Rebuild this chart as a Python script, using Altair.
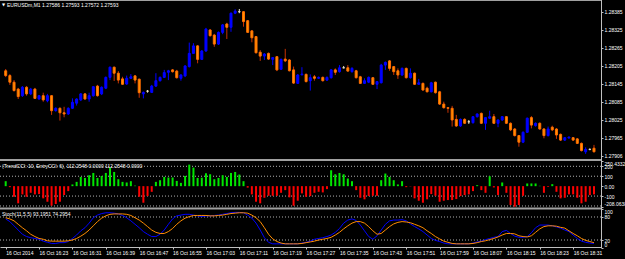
import json
import altair as alt
import pandas as pd

# ---------------- data ----------------
time_labels = ["16 Oct 2014", "16 Oct 16:23", "16 Oct 16:31", "16 Oct 16:39", "16 Oct 16:47",
               "16 Oct 16:55", "16 Oct 17:03", "16 Oct 17:11", "16 Oct 17:19", "16 Oct 17:27",
               "16 Oct 17:35", "16 Oct 17:43", "16 Oct 17:51", "16 Oct 17:59", "16 Oct 18:07",
               "16 Oct 18:15", "16 Oct 18:23", "16 Oct 18:31"]
bars_per_label = 8

price_ticks = [1.28385, 1.28325, 1.28265, 1.28205, 1.28145, 1.28085, 1.28025, 1.27965, 1.27906]

open_ = [1.28189, 1.28173, 1.28151, 1.28128, 1.28106, 1.28134, 1.28112, 1.28128, 1.28095, 1.28106,
         1.28089, 1.28106, 1.28056, 1.28064, 1.28049, 1.28045, 1.28064, 1.28081, 1.28092, 1.28112,
         1.28095, 1.28106, 1.28138, 1.28112, 1.28131, 1.28167, 1.28201, 1.28181, 1.28162, 1.28145,
         1.28164, 1.28172, 1.28161, 1.28112, 1.28121, 1.28117, 1.28138, 1.28156, 1.28167, 1.28184,
         1.28192, 1.28188, 1.28164, 1.28172, 1.28203, 1.28247, 1.28272, 1.28227, 1.28255, 1.28325,
         1.28308, 1.28278, 1.28317, 1.28345, 1.28334, 1.28381, 1.28386, 1.28386, 1.28356, 1.28322,
         1.28303, 1.28251, 1.28238, 1.28247, 1.28227, 1.28236, 1.28194, 1.28228, 1.28225, 1.28192,
         1.28147, 1.28176, 1.28177, 1.28156, 1.28169, 1.28164, 1.28167, 1.28158, 1.28166, 1.28192,
         1.28186, 1.28199, 1.28199, 1.28186, 1.28189, 1.28169, 1.28147, 1.28151, 1.28166, 1.28144,
         1.28149, 1.28208, 1.28222, 1.28203, 1.28189, 1.28175, 1.28197, 1.28166, 1.28181, 1.28144,
         1.28147, 1.28131, 1.28119, 1.28151, 1.28119, 1.28078, 1.28066, 1.28064, 1.28027, 1.28005,
         1.28027, 1.28019, 1.28016, 1.28036, 1.28047, 1.28014, 1.28031, 1.28036, 1.28014, 1.28025,
         1.28036, 1.28014, 1.27995, 1.27973, 1.27951, 1.27984, 1.28033, 1.28006, 1.28014, 1.27995,
         1.27973, 1.28001, 1.27995, 1.27977, 1.27958, 1.27965, 1.27966, 1.27962, 1.27947, 1.27919,
         1.27927, 1.27931]
high = [1.28195, 1.28178, 1.28158, 1.28132, 1.28138, 1.28138, 1.28132, 1.28132, 1.28108, 1.28116,
        1.28112, 1.28108, 1.28067, 1.28067, 1.28069, 1.28067, 1.28097, 1.28097, 1.28115, 1.28115,
        1.28116, 1.28138, 1.28142, 1.28137, 1.28170, 1.28203, 1.28203, 1.28188, 1.28169, 1.28173,
        1.28178, 1.28175, 1.28163, 1.28120, 1.28125, 1.28142, 1.28181, 1.28170, 1.28192, 1.28192,
        1.28195, 1.28192, 1.28178, 1.28208, 1.28283, 1.28281, 1.28275, 1.28258, 1.28332, 1.28328,
        1.28312, 1.28320, 1.28345, 1.28349, 1.28383, 1.28394, 1.28395, 1.28388, 1.28358, 1.28325,
        1.28305, 1.28258, 1.28248, 1.28250, 1.28235, 1.28238, 1.28230, 1.28262, 1.28228, 1.28203,
        1.28178, 1.28201, 1.28180, 1.28177, 1.28175, 1.28170, 1.28170, 1.28170, 1.28195, 1.28197,
        1.28208, 1.28205, 1.28208, 1.28201, 1.28192, 1.28172, 1.28164, 1.28170, 1.28168, 1.28155,
        1.28212, 1.28220, 1.28225, 1.28205, 1.28197, 1.28200, 1.28200, 1.28197, 1.28183, 1.28162,
        1.28150, 1.28136, 1.28152, 1.28153, 1.28122, 1.28086, 1.28068, 1.28072, 1.28042, 1.28030,
        1.28031, 1.28025, 1.28038, 1.28047, 1.28050, 1.28035, 1.28056, 1.28045, 1.28027, 1.28038,
        1.28038, 1.28017, 1.27998, 1.27975, 1.27987, 1.28033, 1.28038, 1.28017, 1.28017, 1.27998,
        1.28003, 1.28006, 1.27998, 1.27980, 1.27968, 1.27970, 1.27968, 1.27965, 1.27950, 1.27934,
        1.27930, 1.27942]
low = [1.28168, 1.28142, 1.28120, 1.28095, 1.28102, 1.28106, 1.28108, 1.28095, 1.28092, 1.28086,
       1.28084, 1.28042, 1.28053, 1.28023, 1.28034, 1.28042, 1.28062, 1.28073, 1.28088, 1.28092,
       1.28086, 1.28103, 1.28103, 1.28108, 1.28128, 1.28158, 1.28155, 1.28147, 1.28142, 1.28142,
       1.28162, 1.28147, 1.28099, 1.28097, 1.28116, 1.28115, 1.28135, 1.28153, 1.28165, 1.28158,
       1.28183, 1.28163, 1.28156, 1.28168, 1.28200, 1.28245, 1.28214, 1.28225, 1.28252, 1.28303,
       1.28269, 1.28275, 1.28311, 1.28295, 1.28319, 1.28378, 1.28381, 1.28336, 1.28315, 1.28284,
       1.28247, 1.28222, 1.28225, 1.28225, 1.28208, 1.28188, 1.28192, 1.28218, 1.28187, 1.28145,
       1.28145, 1.28173, 1.28150, 1.28123, 1.28156, 1.28162, 1.28153, 1.28155, 1.28163, 1.28175,
       1.28183, 1.28197, 1.28186, 1.28183, 1.28163, 1.28145, 1.28145, 1.28148, 1.28142, 1.28128,
       1.28147, 1.28192, 1.28189, 1.28175, 1.28162, 1.28172, 1.28163, 1.28163, 1.28142, 1.28142,
       1.28122, 1.28117, 1.28117, 1.28113, 1.28075, 1.28063, 1.28049, 1.28003, 1.28002, 1.28002,
       1.28012, 1.28012, 1.28013, 1.28033, 1.28012, 1.27992, 1.28028, 1.28012, 1.28001, 1.28022,
       1.28012, 1.27988, 1.27970, 1.27936, 1.27948, 1.27982, 1.27997, 1.28003, 1.27992, 1.27964,
       1.27970, 1.27988, 1.27962, 1.27955, 1.27955, 1.27963, 1.27955, 1.27945, 1.27920, 1.27912,
       1.27924, 1.27917]
close = [1.28173, 1.28151, 1.28123, 1.28103, 1.28134, 1.28112, 1.28128, 1.28097, 1.28106, 1.28092,
         1.28106, 1.28056, 1.28064, 1.28049, 1.28045, 1.28064, 1.28084, 1.28095, 1.28112, 1.28095,
         1.28106, 1.28136, 1.28106, 1.28134, 1.28167, 1.28201, 1.28181, 1.28158, 1.28144, 1.28164,
         1.28169, 1.28158, 1.28116, 1.28117, 1.28121, 1.28138, 1.28156, 1.28167, 1.28183, 1.28189,
         1.28186, 1.28166, 1.28175, 1.28205, 1.28247, 1.28272, 1.28227, 1.28255, 1.28328, 1.28306,
         1.28278, 1.28317, 1.28342, 1.28334, 1.28381, 1.28388, 1.28386, 1.28353, 1.28317, 1.28299,
         1.28249, 1.28238, 1.28245, 1.28228, 1.28233, 1.28192, 1.28227, 1.28222, 1.28189, 1.28148,
         1.28175, 1.28178, 1.28153, 1.28166, 1.28164, 1.28167, 1.28156, 1.28167, 1.28192, 1.28184,
         1.28199, 1.28199, 1.28188, 1.28197, 1.28166, 1.28147, 1.28156, 1.28167, 1.28144, 1.28153,
         1.28208, 1.28217, 1.28197, 1.28186, 1.28175, 1.28197, 1.28166, 1.28181, 1.28144, 1.28149,
         1.28125, 1.28119, 1.28149, 1.28116, 1.28078, 1.28066, 1.28064, 1.28025, 1.28005, 1.28027,
         1.28014, 1.28019, 1.28036, 1.28045, 1.28014, 1.28033, 1.28036, 1.28014, 1.28025, 1.28036,
         1.28014, 1.27992, 1.27973, 1.27951, 1.27984, 1.28031, 1.28008, 1.28014, 1.27995, 1.27973,
         1.27995, 1.27992, 1.27975, 1.27958, 1.27966, 1.27968, 1.27958, 1.27947, 1.27923, 1.27927,
         1.27927, 1.27919]

cci = [50, -10, -107, -173, -83, -107, -67, -83, -80, -123,
       -157, -197, -180, -157, -90, -50, 17, 43, 93, 83,
       110, 133, 83, 103, 133, 187, 143, 70, 43, 37,
       50, 5, -107, -167, -100, -57, 43, 60, 93, 87,
       87, 53, 33, 103, 217, 187, 83, 85, 130, 120,
       70, 83, 110, 93, 133, 143, 117, 50, -15, -83,
       -157, -173, -117, -97, -97, -97, -67, -40, -113, -197,
       -147, -73, -107, -100, -67, -57, -63, -30, 160, 120,
       133, 120, 77, 50, -40, -117, -133, -100, -97, -97,
       60, 127, 93, 60, 17, 50, -10, -3, -123, -147,
       -167, -133, -80, -97, -157, -147, -140, -140, -130, -100,
       -90, -83, -50, 10, -40, -67, 100, -13, -90, 37,
       -67, -190, -207, -190, -97, 27, 27, 27, 3, -67,
       -7, 20, -57, -123, -117, -83, -83, -117, -173, -157,
       -90, -83]
cci_levels = [200, 100, -100, -200]
cci_tick_values = [250.4332, 200, 100, 0, -100, -208.0638]
cci_tick_labels = ["250.4332", "200", "100", "0.00", "-100", "-208.0638"]

stoch_main = [75, 68, 57, 46, 35, 29, 26, 24, 22, 17,
              14, 11, 11, 13, 13, 16, 24, 33, 44, 52,
              64, 78, 85, 89, 91, 91, 90, 88, 84, 78,
              70, 61, 52, 42, 35, 29, 29, 35, 46, 61,
              75, 83, 85, 87, 87, 85, 83, 81, 83, 83,
              84, 85, 87, 89, 91, 92, 92, 91, 85, 77,
              64, 46, 26, 14, 10, 10, 10, 10, 10, 10,
              10, 12, 14, 17, 22, 24, 26, 29, 33, 40,
              50, 64, 72, 75, 71, 59, 44, 29, 22, 31,
              46, 61, 70, 72, 72, 73, 70, 62, 55, 49,
              42, 33, 24, 19, 16, 12, 10, 10, 10, 10,
              10, 10, 12, 15, 17, 21, 24, 27, 29, 42,
              45, 37, 30, 27, 27, 29, 39, 52, 59, 59,
              59, 57, 54, 51, 46, 42, 33, 24, 17, 14,
              12, 11]
stoch_signal = [78, 75, 70, 61, 52, 44, 35, 29, 24, 22,
                18, 17, 17, 17, 17, 18, 20, 24, 30, 37,
                46, 57, 68, 77, 83, 87, 88, 88, 88, 87,
                84, 78, 72, 64, 55, 46, 40, 37, 37, 42,
                50, 61, 70, 77, 81, 84, 84, 84, 84, 83,
                83, 84, 85, 87, 89, 90, 91, 91, 90, 85,
                78, 68, 52, 35, 23, 16, 12, 10, 10, 10,
                10, 11, 13, 15, 17, 20, 22, 24, 27, 33,
                40, 49, 57, 64, 68, 68, 64, 55, 44, 35,
                37, 46, 55, 62, 66, 68, 67, 65, 61, 57,
                52, 44, 37, 29, 23, 17, 14, 11, 10, 10,
                10, 10, 11, 13, 16, 18, 21, 24, 28, 33,
                37, 37, 36, 31, 29, 28, 31, 40, 49, 55,
                57, 57, 56, 53, 51, 44, 37, 31, 24, 19,
                16, 13]
stoch_levels = [80, 20]
stoch_ticks = [100, 80, 20, 0]

main_title = "EURUSDm,M1  1.27586 1.27593 1.27572 1.27593"
cci_title = "(TrendCCI: 10, EntryCCI: 6), 112.2548 0.0000 112.2548 0.0000"
stoch_title = "Stoch(11,5,5) 93.1951 74.2954"

# ---------------- styling ----------------
BLUE = "#0000ff"
ORANGE = "#ff9900"
ORANGE_EDGE = "#ff6a00"
BEAR_WICK = "#c83200"
DOJI = "#e6dcc3"
GREEN = "#00e600"
RED = "#ff0000"
SIG = "#ff8c00"
FRAME = "#a0a0a0"
FONT = "Liberation Sans"
FS = 5

n = len(open_)
df = pd.DataFrame({"i": list(range(n)), "open": open_, "high": high, "low": low,
                   "close": close, "cci": cci, "k": stoch_main, "d": stoch_signal})
df["body_lo"] = df[["open", "close"]].min(axis=1)
df["body_hi"] = df[["open", "close"]].max(axis=1)
df["wick_col"] = [BLUE if c > o else (BEAR_WICK if c < o else DOJI) for o, c in zip(open_, close)]
df["body_fill"] = [BLUE if c > o else (ORANGE if c < o else DOJI) for o, c in zip(open_, close)]
df["body_edge"] = [BLUE if c > o else (ORANGE_EDGE if c < o else DOJI) for o, c in zip(open_, close)]
df["cci_col"] = [GREEN if v >= 0 else RED for v in cci]
df["zero"] = 0.0

tick_idx = [bars_per_label * k for k in range(len(time_labels))]
x_label_expr = json.dumps(time_labels) + "[round(datum.value / %d)]" % bars_per_label

common_axis = dict(labelColor="#ffffff", labelFont=FONT, labelFontSize=FS, tickColor="#c0c0c0",
                   domainColor="#c0c0c0", grid=False, labelOverlap=False, tickSize=2)

X = alt.X("i:Q", title=None,
          scale=alt.Scale(domain=[-0.165, 141.48], nice=False, zero=False),
          axis=alt.Axis(orient="bottom", values=tick_idx, labelExpr=x_label_expr,
                        labelAlign="left", labelPadding=1, labelFlush=False,
                        **common_axis))

price_scale = alt.Scale(domain=[1.278983, 1.284183], range=[158, 2], nice=False, zero=False)
price_axis = alt.Axis(orient="right", values=price_ticks, format=".5f", labelFlush=False,
                      labelPadding=1, **common_axis)


def PY(field):
    return alt.Y(field, title=None, scale=price_scale, axis=price_axis)


cci_scale = alt.Scale(domain=[-208.0638, 250.4332], range=[206.8, 161.3], nice=False, zero=False)
cci_expr = json.dumps(cci_tick_labels) + "[indexof(" + json.dumps(cci_tick_values) + ", datum.value)]"
cci_axis = alt.Axis(orient="right", values=cci_tick_values, labelExpr=cci_expr, labelFlush=True,
                    labelPadding=1, **common_axis)


def CY(field):
    return alt.Y(field, title=None, scale=cci_scale, axis=cci_axis)


st_scale = alt.Scale(domain=[0, 100], range=[247.67, 209.33], nice=False, zero=False)
st_axis = alt.Axis(orient="right", values=stoch_ticks, format="d", labelFlush=True,
                   labelPadding=1, **common_axis)


def SY(field):
    return alt.Y(field, title=None, scale=st_scale, axis=st_axis)


base = alt.Chart(df)

wicks = base.mark_rule(strokeWidth=1).encode(
    x=X, y=PY("low:Q"), y2="high:Q", color=alt.Color("wick_col:N", scale=None))
bodies = base.mark_bar(size=2, strokeWidth=1).encode(
    x=X, y=PY("body_lo:Q"), y2="body_hi:Q",
    fill=alt.Fill("body_fill:N", scale=None), stroke=alt.Stroke("body_edge:N", scale=None))
main = alt.layer(wicks, bodies)

cci_lv = alt.Chart(pd.DataFrame({"lvl": cci_levels})).mark_rule(
    color="#b0b0b0", strokeWidth=1, strokeDash=[1, 2]).encode(y=CY("lvl:Q"))
cci_bars = base.mark_bar(size=2).encode(
    x=X, y=CY("cci:Q"), y2="zero:Q", fill=alt.Fill("cci_col:N", scale=None))
cci_panel = alt.layer(cci_lv, cci_bars)

st_lv = alt.Chart(pd.DataFrame({"lvl": stoch_levels})).mark_rule(
    color="#b0b0b0", strokeWidth=1, strokeDash=[1, 2]).encode(y=SY("lvl:Q"))
st_k = base.mark_line(color=BLUE, strokeWidth=1).encode(x=X, y=SY("k:Q"))
st_d = base.mark_line(color=SIG, strokeWidth=1).encode(x=X, y=SY("d:Q"))
st_panel = alt.layer(st_lv, st_k, st_d)

one = pd.DataFrame({"a": [0]})
frame = alt.layer(
    alt.Chart(one).mark_rule(color=FRAME, strokeWidth=1).encode(
        x=alt.value(0), x2=alt.value(601), y=alt.value(0.5)),
    alt.Chart(one).mark_rule(color=FRAME, strokeWidth=2).encode(
        x=alt.value(0), x2=alt.value(601), y=alt.value(160)),
    alt.Chart(one).mark_rule(color=FRAME, strokeWidth=2).encode(
        x=alt.value(0), x2=alt.value(601), y=alt.value(208.5)),
    alt.Chart(one).mark_rule(color="#c0c0c0", strokeWidth=1).encode(
        x=alt.value(601.5), y=alt.value(0), y2=alt.value(247)),
)


def label(txt, px, py, size=FS, font=FONT):
    return alt.Chart(one).mark_text(align="left", baseline="middle", color="#ffffff",
                                    fontSize=size, font=font).encode(
        x=alt.value(px), y=alt.value(py), text=alt.value(txt))


texts = alt.layer(
    label("\u25bc", 2, 4.5, size=4, font="DejaVu Sans"),
    label(main_title, 7, 4.5),
    label(cci_title, 2, 166),
    label(stoch_title, 2, 214),
)

chart = alt.layer(main, cci_panel, st_panel, frame, texts).resolve_scale(
    y="independent").resolve_axis(y="independent").properties(
    width=601, height=247,
    padding={"left": 0, "top": 0, "right": 24, "bottom": 12},
    autosize=alt.AutoSizeParams(type="none"),
).configure(background="#000000").configure_view(strokeWidth=0)

chart.save("out.html", embed_options={"renderer": "svg", "actions": False})
